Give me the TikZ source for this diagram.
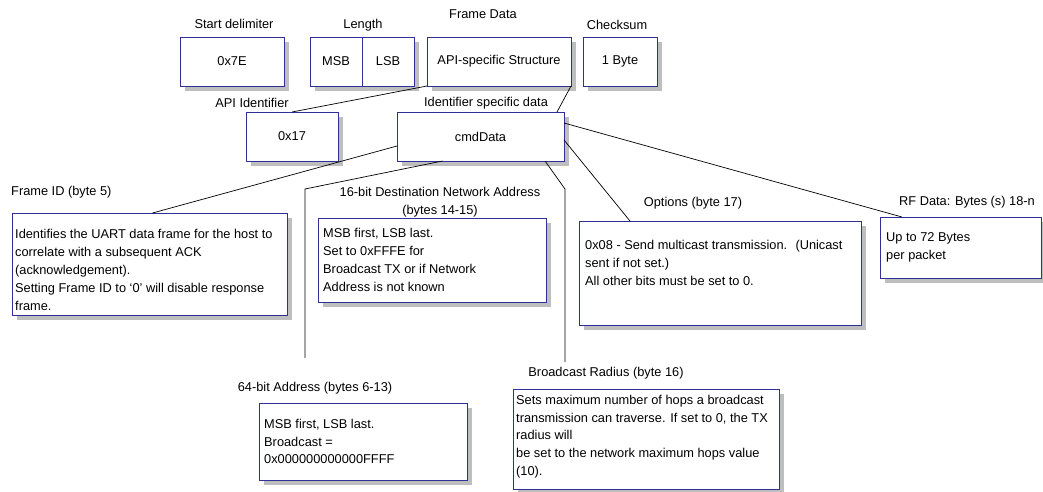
\documentclass[tikz,border=0pt]{standalone}
\usepackage{fontspec}
\setmainfont{Liberation Sans}
\usetikzlibrary{calc}
\definecolor{boxblue}{RGB}{48,48,150}
\definecolor{shadowgray}{RGB}{190,190,190}
\begin{document}
\begin{tikzpicture}[x=1pt,y=-1pt,
  font=\fontsize{12.8}{17.8}\selectfont,
  box/.style={draw=boxblue, fill=white, line width=0.8pt, inner sep=0pt, outer sep=0pt, anchor=north west},
  shadowbox/.style={fill=shadowgray, draw=none},
  lbl/.style={inner sep=0pt},
  txt/.style={inner sep=0pt, align=left, anchor=west},
  conn/.style={draw=black, line width=0.7pt}]
\useasboundingbox (0,0) rectangle (1043,491);
% shadows (drawn first, offset copies of the boxes)
\foreach \px/\py/\pw/\ph in {180/37/104/49, 310/37/104/49, 427/37/144/49, 583/37/74/49, 246/112/92/49, 397/112/167/49,
  12/213/275/102, 318/218/228/84, 579/221/282/104, 880/217/161/61, 259/403/208/77, 513/389/266/100}
  \path[shadowbox] (\px+5,\py+5) rectangle (\px+\pw+5,\py+\ph+5);
% top row
\node[box, minimum width=104pt, minimum height=49pt] (sd) at (180,37) {0x7E};
\node[box, minimum width=52pt, minimum height=49pt] (msb) at (310,37) {MSB};
\node[box, minimum width=52pt, minimum height=49pt] (lsb) at (362,37) {LSB};
\node[box, minimum width=144pt, minimum height=49pt] (fd) at (427,37) {API-specific Structure};
\node[box, minimum width=74pt, minimum height=49pt] (cs) at (583,37) {1 Byte};
\node[lbl] (sdL) at (234,24) {Start delimiter};
\node[lbl] (lenL) at (363,25) {Length};
\node[lbl] (fdL) at (483,14) {Frame Data};
\node[lbl] (csL) at (617,25) {Checksum};
% second row
\node[box, minimum width=92pt, minimum height=49pt] (api) at (246,112) {0x17};
\node[box, minimum width=167pt, minimum height=49pt] (cmd) at (397,112) {cmdData};
\node[lbl] (apiL) at (252,103) {API Identifier};
\node[lbl] (cmdL) at (486,103) {Identifier specific data};
% lower boxes
\node[box, minimum width=275pt, minimum height=102pt] (fid) at (12,213) {};
\node[txt] (fidT) at ([xshift=3pt,yshift=-6pt]fid.west) {Identifies the UART data frame for the host to\\correlate with a subsequent ACK\\(acknowledgement).\\Setting Frame ID to ‘0’ will disable response\\frame.};
\node[lbl, anchor=west] (fidL) at (11,192) {Frame ID (byte 5)};

\node[box, minimum width=228pt, minimum height=84pt] (dst) at (318,218) {};
\node[txt] (dstT) at ([xshift=5pt]dst.west) {MSB first, LSB last.\\Set to 0xFFFE for\\Broadcast TX or if Network\\Address is not known};
\node[lbl, align=center] (dstL) at (440,202) {16-bit Destination Network Address\\(bytes 14-15)};

\node[box, minimum width=282pt, minimum height=104pt] (opt) at (579,221) {};
\node[txt] (optT) at ([xshift=6pt,yshift=10pt]opt.west) {0x08 - Send multicast transmission.~ (Unicast\\sent if not set.)\\All other bits must be set to 0.};
\node[lbl] (optL) at (693,203) {Options (byte 17)};

\node[box, minimum width=161pt, minimum height=61pt] (rf) at (880,217) {};
\node[txt] (rfT) at ([xshift=6pt]rf.west) {Up to 72 Bytes\\per packet};
\node[lbl] (rfL) at (967,202) {RF Data: Bytes (s) 18-n};

\node[box, minimum width=208pt, minimum height=77pt] (adr) at (259,403) {};
\node[txt] (adrT) at ([xshift=5pt]adr.west) {MSB first, LSB last.\\Broadcast =\\0x000000000000FFFF};
\node[lbl] (adrL) at (315,388) {64-bit Address (bytes 6-13)};

\node[box, minimum width=266pt, minimum height=100pt] (bcr) at (513,389) {};
\node[txt] (bcrT) at ([xshift=3pt,yshift=2.5pt]bcr.west) {Sets maximum number of hops a broadcast\\transmission can traverse. If set to 0, the TX\\radius will\\be set to the network maximum hops value\\(10).};
\node[lbl] (bcrL) at (606,373) {Broadcast Radius (byte 16)};

% connectors
\coordinate (b4) at (305,189);
\coordinate (e4) at (305,358);
\coordinate (b5) at (565,189);
\coordinate (e5) at (565,362);
\draw[conn] (fd.south west) -- (api.north);
\draw[conn] (fd.south east) -- ([xshift=-7pt]cmd.north east);
\draw[conn] ([yshift=-9.5pt]cmd.west) -- ([xshift=3pt]fid.north);
\draw[conn] ([xshift=-38pt]cmd.south) -- (b4) -- (e4);
\draw[conn] ([xshift=-19pt]cmd.south east) -- (b5) -- (e5);
\draw[conn] ([yshift=-3.5pt]cmd.east) -- ([xshift=51pt]opt.north west);
\draw[conn] ([yshift=13.5pt]cmd.east) -- ([xshift=22pt]rf.north west);
\end{tikzpicture}
\end{document}
